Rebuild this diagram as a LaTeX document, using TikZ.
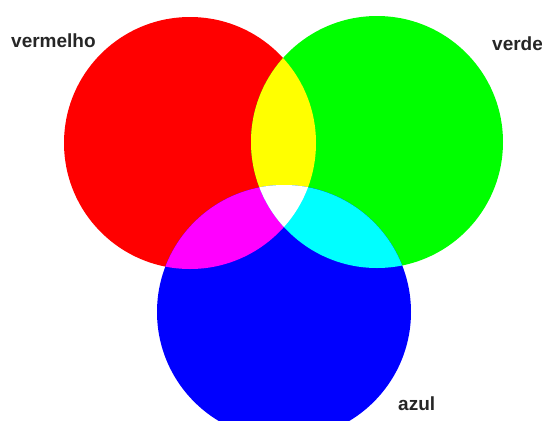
\documentclass[tikz,border=0pt]{standalone}
\usepackage{fontspec}
\setmainfont{Liberation Sans}
\usepackage{tikz}
\usetikzlibrary{positioning}
\definecolor{rgbred}{rgb}{1,0,0}
\definecolor{rgbgreen}{rgb}{0,1,0}
\definecolor{rgbblue}{rgb}{0,0,1}
\definecolor{rgbyellow}{rgb}{1,1,0}
\definecolor{rgbmagenta}{rgb}{1,0,1}
\definecolor{rgbcyan}{rgb}{0,1,1}
\tikzset{
  lbl/.style={font=\fontsize{19}{21}\selectfont\bfseries, text=black!85, inner sep=0pt},
}
\begin{document}
\begin{tikzpicture}[x=1pt, y=-1pt]
        \useasboundingbox (0,0) rectangle (542,421);
        \clip (0,0) rectangle (542,421);
        \fill[white] (0,0) rectangle (542,421);
        % light centres
        \coordinate (r) at (190,143);
        \coordinate (g) at (377,142);
        \coordinate (b) at (284,312);
        % base discs
        \fill[rgbred] (r) circle (126);
        \fill[rgbgreen] (g) circle (126);
        \fill[rgbblue] (b) circle (127);
        % pairwise mixes
        \begin{scope}
          \clip (r) circle (126);
          \fill[rgbyellow] (g) circle (126);
          \fill[rgbmagenta] (b) circle (127);
        \end{scope}
        \begin{scope}
          \clip (g) circle (126);
          \fill[rgbcyan] (b) circle (127);
        \end{scope}
        % all three
        \begin{scope}
          \clip (r) circle (126);
          \clip (g) circle (126);
          \fill[white] (b) circle (127);
        \end{scope}
        % labels
        \node[lbl, anchor=west] (vermelho) at (11,41) {vermelho};
        \node[lbl, anchor=west] (verde) at (492,44) {verde};
        \node[lbl, anchor=west] (azul) at (398,404) {azul};
      \end{tikzpicture}
\end{document}
